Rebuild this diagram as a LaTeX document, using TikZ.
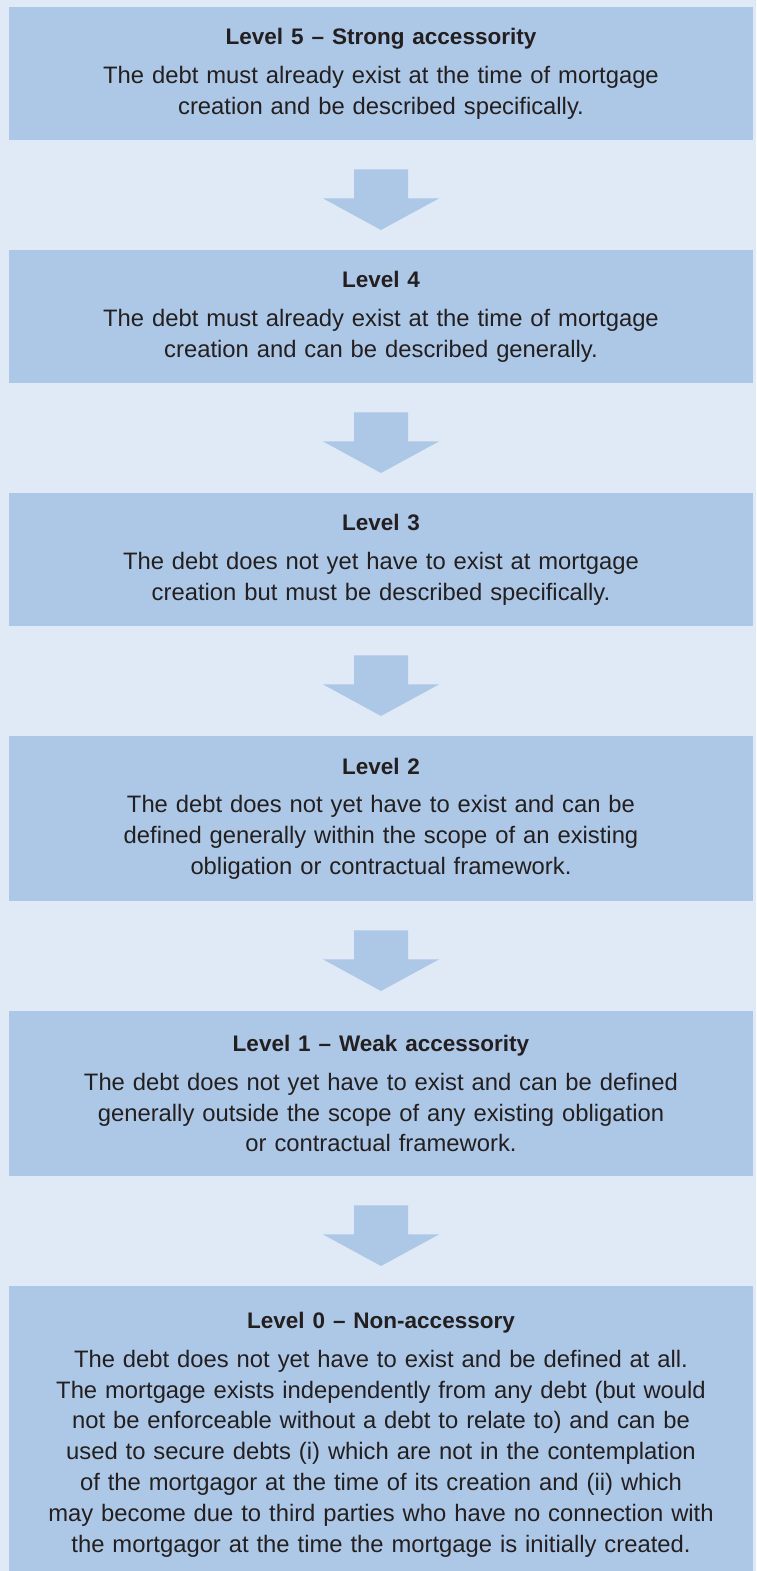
\documentclass[tikz,border=0pt]{standalone}
\usepackage{fontspec}
\setmainfont{Liberation Sans}
\usetikzlibrary{calc}
\definecolor{pagebg}{HTML}{E0EAF6}
\definecolor{boxblue}{HTML}{ADC8E6}
\definecolor{inkgrey}{HTML}{231F20}
\newcommand{\lvltitle}[1]{{\bfseries\fontsize{22.5}{30.8}\selectfont #1}\\[8pt]}

\begin{document}
\begin{tikzpicture}[x = 1pt, y = 1pt,
				level/.style = {rectangle, fill = boxblue, text = inkgrey,
				minimum width = 744pt, text width = 730pt, align = center,
				inner sep = 0pt, anchor = north,
				font = \fontsize{23.8}{30.8}\selectfont},
				down/.style = {fill = boxblue}]

				\fill [pagebg] (0,0) rectangle (756,-1571);
				\useasboundingbox (0,0) rectangle (756,-1571);

				\node [level, minimum height = 133pt] (l_5) at (381,-7)
				{\lvltitle{Level 5 -- Strong accessority}
				The debt must already exist at the time of mortgage\\
				creation and be described specifically.};
				\node [level, minimum height = 133pt] (l_4) at (381,-250)
				{\lvltitle{Level 4}
				The debt must already exist at the time of mortgage\\
				creation and can be described generally.};
				\node [level, minimum height = 133pt] (l_3) at (381,-493)
				{\lvltitle{Level 3}
				The debt does not yet have to exist at mortgage\\
				creation but must be described specifically.};
				\node [level, minimum height = 165pt] (l_2) at (381,-736)
				{\lvltitle{Level 2}
				The debt does not yet have to exist and can be\\
				defined generally within the scope of an existing\\
				obligation or contractual framework.};
				\node [level, minimum height = 165pt] (l_1) at (381,-1011)
				{\lvltitle{Level 1 -- Weak accessority}
				The debt does not yet have to exist and can be defined\\
				generally outside the scope of any existing obligation\\
				or contractual framework.};
				\node [level, minimum height = 297pt] (l_0) at (381,-1286)
				{\lvltitle{Level 0 -- Non-accessory}
				The debt does not yet have to exist and be defined at all.\\
				The mortgage exists independently from any debt (but would\\
				not be enforceable without a debt to relate to) and can be\\
				used to secure debts (i) which are not in the contemplation\\
				of the mortgagor at the time of its creation and (ii) which\\
				may become due to third parties who have no connection with\\
				the mortgagor at the time the mortgage is initially created.};

				% block arrows between the levels
				\foreach \a/\b in {l_5/l_4, l_4/l_3, l_3/l_2, l_2/l_1, l_1/l_0}
					\fill [down] ($(\a.south)+(-27,-29)$) -- ++(54,0) -- ++(0,-29)
					-- ++(31,0) -- ($(\b.north)+(0,20)$)
					-- ($(\a.south)+(-58,-58)$) -- ++(31,0) -- cycle;
\end{tikzpicture}
\end{document}
